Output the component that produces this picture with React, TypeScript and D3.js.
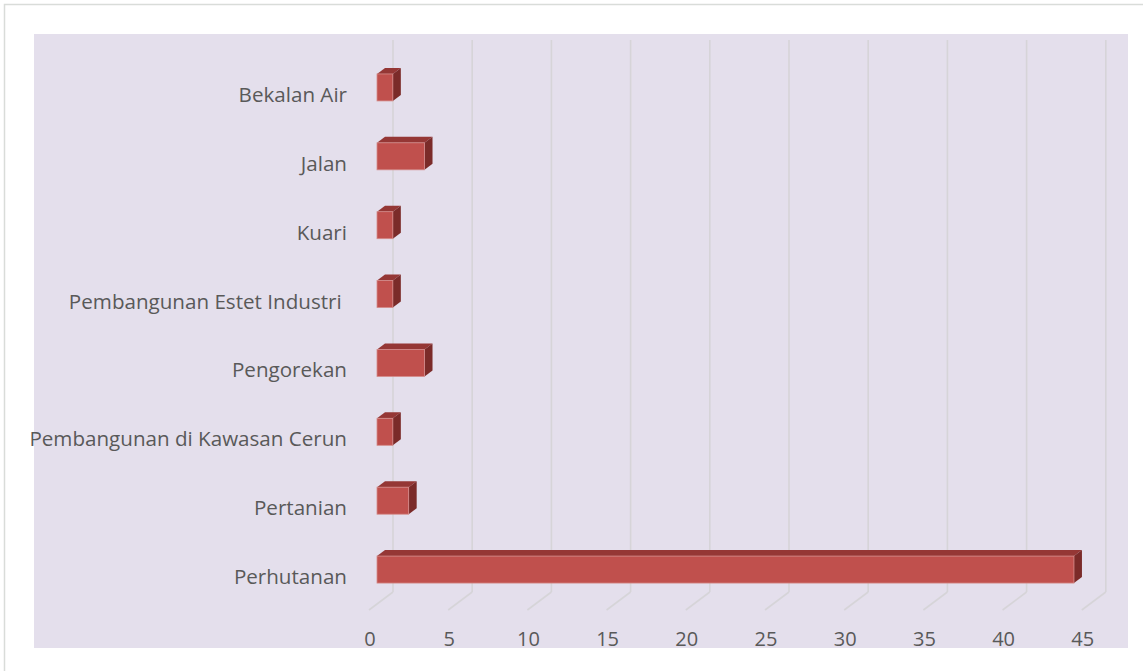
import React from "react";
import * as d3 from "d3";

const categories = [
  "Bekalan Air",
  "Jalan",
  "Kuari",
  "Pembangunan Estet Industri ",
  "Pengorekan",
  "Pembangunan di Kawasan Cerun",
  "Pertanian",
  "Perhutanan",
];
const values = [1, 3, 1, 1, 3, 1, 2, 44];
const tickValues = [0, 5, 10, 15, 20, 25, 30, 35, 40, 45];

const W = 1143;
const H = 671;
const FONT = "'Open Sans', sans-serif";

export default function App() {
  // front plane scales
  const x = d3.scaleLinear().domain([0, 45]).range([369, 1081.8]);
  const y = d3.scaleBand<string>().domain(categories).range([59, 610]);
  const depth = { dx: 24, dy: -18 };
  const barOff = { dx: depth.dx / 3, dy: depth.dy / 3 };
  const barD = { dx: depth.dx / 3, dy: depth.dy / 3 };
  const barH = 27;
  const floorY = 610;
  const topY = 40;

  return (
    <svg
      width={W}
      height={H}
      style={{ position: "absolute", left: 0, top: 0, display: "block" }}
    >
      <rect x={0} y={0} width={W} height={H} fill="#ffffff" />
      <rect x={4.5} y={4.5} width={W + 10} height={H + 10} fill="#ffffff" stroke="#d9dcd9" strokeWidth={1.5} />
      <rect x={34} y={34} width={1094} height={614} fill="#e4dfec" />
      {/* gridlines */}
      {tickValues.map((t) => {
        const fx = x(t);
        const bx = fx + depth.dx;
        return (
          <g key={t} stroke="#d6d4d8" strokeWidth={1.6} fill="none">
            <line x1={fx} y1={floorY} x2={bx} y2={floorY + depth.dy} />
            <line x1={bx} y1={floorY + depth.dy} x2={bx} y2={topY} />
          </g>
        );
      })}
      {/* bars */}
      {categories.map((c, i) => {
        const v = values[i];
        const cy = (y(c) as number) + y.bandwidth() / 2 + barOff.dy;
        const x0 = x(0) + barOff.dx;
        const x1 = x(v) + barOff.dx;
        const y0 = cy - barH / 2;
        const y1 = cy + barH / 2;
        const top = `M${x0},${y0} L${x0 + barD.dx},${y0 + barD.dy} L${x1 + barD.dx},${y0 + barD.dy} L${x1},${y0} Z`;
        const side = `M${x1},${y0} L${x1 + barD.dx},${y0 + barD.dy} L${x1 + barD.dx},${y1 + barD.dy} L${x1},${y1} Z`;
        return (
          <g key={c}>
            <path d={top} fill="#953735" />
            <path d={side} fill="#7b2b29" />
            <rect x={x0} y={y0} width={x1 - x0} height={barH} fill="#c0504d" stroke="#d48b89" strokeWidth={0.8} />
          </g>
        );
      })}
      {/* category labels */}
      {categories.map((c) => (
        <text
          key={c}
          x={347}
          y={(y(c) as number) + y.bandwidth() / 2 + 3}
          textAnchor="end"
          dominantBaseline="middle"
          fontFamily={FONT}
          fontSize={20.6}
          fill="#595959"
          style={{ whiteSpace: "pre" }}
        >
          {c}
        </text>
      ))}
      {/* value tick labels */}
      {tickValues.map((t) => (
        <text
          key={t}
          x={x(t) + 1}
          y={641}
          textAnchor="middle"
          dominantBaseline="middle"
          fontFamily={FONT}
          fontSize={20}
          fill="#595959"
        >
          {t}
        </text>
      ))}
    </svg>
  );
}
